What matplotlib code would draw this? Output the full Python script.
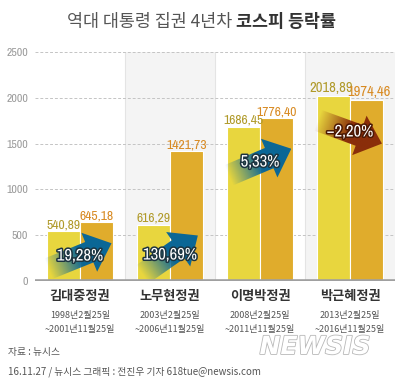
import numpy as np
import matplotlib
matplotlib.use("Agg")
import matplotlib.pyplot as plt
from matplotlib.patches import Polygon
import matplotlib.patheffects as pe

plt.rcParams["font.family"] = ["Noto Sans CJK KR", "DejaVu Sans"]
NARROW = ["Archivo Narrow", "Barlow Semi Condensed", "Noto Sans CJK KR", "DejaVu Sans"]

# %% data
admins = ["김대중정권", "노무현정권", "이명박정권", "박근혜정권"]
start_dates = ["1998년2월25일", "2003년2월25일", "2008년2월25일", "2013년2월25일"]
end_dates = ["~2001년11월25일", "~2006년11월25일", "~2011년11월25일", "~2016년11월25일"]
kospi_start = [540.89, 616.29, 1686.45, 2018.89]
kospi_end = [645.18, 1421.73, 1776.40, 1974.46]
change_pct = [19.28, 130.69, 5.33, -2.20]
yticks = [0, 500, 1000, 1500, 2000, 2500]

# %% layout of the arrows (value height of arrow centre, angle in degrees)
arrow_y = [273, 284, 1299, 1627]
arrow_ang = [22, 35, 23, -20]

YELLOW = "#e8d63e"
ORANGE = "#e0ac2c"
BLUE = "#0b6796"
RED = "#8a2e0a"


def fmt(v):
    return f"{v:.2f}".replace(".", ",")


def draw_arrow(ax, xc, yc, ang, color, L=68, w=11, h=21, hl=24):
    c = ax.transData.transform((xc, yc))
    a = np.deg2rad(ang)
    u = np.array([np.cos(a), np.sin(a)])
    n = np.array([-np.sin(a), np.cos(a)])
    shape = [(-L / 2, -w), (L / 2 - hl, -w), (L / 2 - hl, -h), (L / 2, 0),
             (L / 2 - hl, h), (L / 2 - hl, w), (-L / 2, w)]
    pix = np.array([c + s * u + t * n for s, t in shape])
    dat = ax.transData.inverted().transform(pix)
    poly = Polygon(dat, closed=True, facecolor="none", edgecolor="none",
                   transform=ax.transData, zorder=4)
    ax.add_patch(poly)

    x0, y0 = pix.min(axis=0)
    x1, y1 = pix.max(axis=0)
    gx, gy = np.meshgrid(np.linspace(x0, x1, 120), np.linspace(y0, y1, 120))
    t = ((gx - c[0]) * u[0] + (gy - c[1]) * u[1] + L / 2) / L
    alpha = np.clip(t / 0.5, 0, 1)
    rgba = np.zeros(gx.shape + (4,))
    rgba[..., :3] = matplotlib.colors.to_rgb(color)
    rgba[..., 3] = alpha
    d0 = ax.transData.inverted().transform((x0, y0))
    d1 = ax.transData.inverted().transform((x1, y1))
    im = ax.imshow(rgba, extent=(d0[0], d1[0], d0[1], d1[1]), origin="lower",
                   aspect="auto", interpolation="bilinear", zorder=4)
    im.set_clip_path(poly)


fg = plt.figure(figsize=(4.03, 3.85), dpi=100)
ax = fg.add_axes([35 / 403, 104 / 385, 360 / 403, 229 / 385])
ax.set_xlim(0, 4)
ax.set_ylim(0, 2500)
for s in ax.spines.values():
    s.set_visible(False)

# %% background bands + grid
for i in (1, 3):
    ax.axvspan(i, i + 1, color="#f4f4f4", zorder=0, lw=0)
ax.vlines([1, 2, 3], 0, 2500, colors="#e4e4e4", lw=0.8, zorder=0.5)
ax.hlines(yticks[1:], 0, 4, colors="#c4c4c4", linestyles=(0, (3, 2)), lw=0.7, zorder=1)

ax.set_yticks(yticks)
ax.set_yticklabels([str(v) for v in yticks], family=NARROW, fontsize=8.5, color="#9a9a9a")
ax.tick_params(axis="y", length=0, pad=5)
ax.set_xticks([])

# %% bars
x = np.arange(len(admins)) + 0.5
bw = 0.365
ax.bar(x - bw / 2, kospi_start, bw, color=YELLOW, edgecolor="white", lw=0.8, zorder=3)
ax.bar(x + bw / 2, kospi_end, bw, color=ORANGE, edgecolor="white", lw=0.8, zorder=3)
ax.axhline(0, color="#a0a0a0", lw=2.6, zorder=6)

for i in range(len(admins)):
    big = i == 3
    fs = 10.5 if big else 9.8
    nudge = 2 if big else 0
    ax.annotate(fmt(kospi_start[i]), (x[i] - bw / 2, kospi_start[i]), xytext=(-nudge, 0.5),
                textcoords="offset points", ha="center", va="bottom", family=NARROW,
                fontsize=fs, color="#b09a2a", fontweight="bold" if big else "normal", zorder=7)
    ax.annotate(fmt(kospi_end[i]), (x[i] + bw / 2, kospi_end[i]), xytext=(nudge, 0.5),
                textcoords="offset points", ha="center", va="bottom", family=NARROW,
                fontsize=fs, color="#d88a22", fontweight="bold" if big else "normal", zorder=7)

    col = BLUE if change_pct[i] >= 0 else RED
    draw_arrow(ax, x[i], arrow_y[i], arrow_ang[i], col)
    ax.text(x[i], arrow_y[i], fmt(change_pct[i]).replace("-", "−") + "%", ha="center", va="center",
            family=NARROW, fontsize=12, color="white", zorder=8,
            path_effects=[pe.withStroke(linewidth=2.2, foreground="#1c3440" if change_pct[i] >= 0 else "#4a1804")])

    ax.annotate(admins[i], (x[i], 0), xytext=(0, -11), textcoords="offset points",
                ha="center", va="center", fontsize=9.5, fontweight="bold", color="#333333")
    ax.annotate(start_dates[i], (x[i], 0), xytext=(0, -25), textcoords="offset points",
                ha="center", va="center", fontsize=6.5, color="#555555")
    ax.annotate(end_dates[i], (x[i], 0), xytext=(0, -35), textcoords="offset points",
                ha="center", va="center", fontsize=6.5, color="#555555")

ax.set_xlim(0, 4)
ax.set_ylim(0, 2500)

# %% title in two weights
r = fg.canvas.get_renderer()
t1 = fg.text(0, 1 - 22 / 385, "역대 대통령 집권 4년차 ", fontsize=12.5, color="#555555", va="center")
t2 = fg.text(0, 1 - 22 / 385, "코스피 등락률", fontsize=12.5, color="#333333", fontweight="bold", va="center")
w1 = t1.get_window_extent(r).width
w2 = t2.get_window_extent(r).width
x0 = (403 - w1 - w2) / 2
t1.set_x(x0 / 403)
t2.set_x((x0 + w1) / 403)

# %% footer
fg.text(8 / 403, 1 - 352 / 385, "자료 : 뉴시스", fontsize=7, color="#555555", va="center")
fg.text(8 / 403, 1 - 372 / 385, "16.11.27 / 뉴시스 그래픽 : 전진우 기자 618tue@newsis.com",
        fontsize=7, color="#555555", va="center")
fg.text(315 / 403, 1 - 347 / 385, "NEWSIS", fontsize=18, fontweight="bold", style="italic",
        family="DejaVu Sans", color="white", ha="center", va="center",
        path_effects=[pe.withStroke(linewidth=1.2, foreground="#b8b8b8")])

fg.savefig("out.png", dpi=100)
